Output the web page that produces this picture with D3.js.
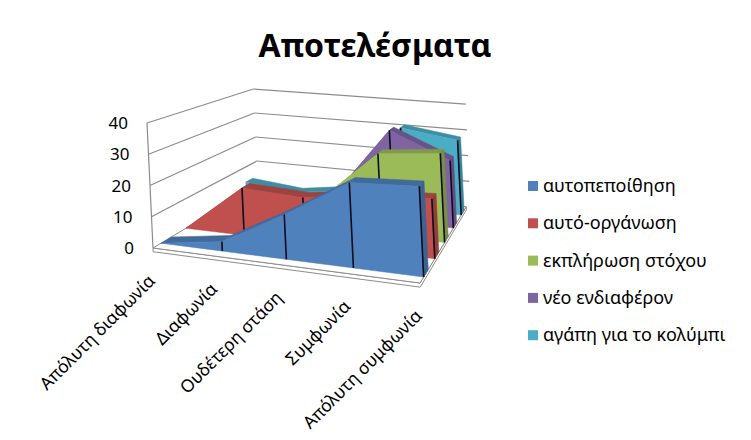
<!DOCTYPE html>
<html>
<head>
<meta charset="utf-8">
<title>Αποτελέσματα</title>
<style>
  body { margin: 0; background: #fff; }
  text { font-family: "Noto Sans", sans-serif; fill: #000; }
</style>
</head>
<body>
<script src="https://d3js.org/d3.v7.min.js"></script>
<script>
// data
var categories = ["Απόλυτη διαφωνία", "Διαφωνία", "Ουδέτερη στάση", "Συμφωνία", "Απόλυτη συμφωνία"];
var seriesNames = ["αυτοπεποίθηση", "αυτό-οργάνωση", "εκπλήρωση στόχου", "νέο ενδιαφέρον", "αγάπη για το κολύμπι"];
var confidence   = [0, 3, 14, 26, 27];
var selfOrg      = [0, 16, 15, 18, 19];
var goalReached  = [0, 0, 10, 28, 30];
var newInterest  = [0, 0, 8, 33, 24];
var loveSwimming = [4, 2, 5, 31, 28];
var yTicks = [0, 10, 20, 30, 40];
var colors = ["#4F81BD", "#C0504D", "#9BBB59", "#8064A2", "#4BACC6"];

var seriesValues = [confidence, selfOrg, goalReached, newInterest, loveSwimming];

var W = 751, H = 440;

var svg = d3.select("body").append("svg")
    .attr("width", W)
    .attr("height", H);

// 3d scales: category -> x (0..1), value -> height (0..1), series -> depth band (0..1)
var xScale = d3.scalePoint().domain(categories).range([0, 1]);
var yScale = d3.scaleLinear().domain([0, 40]).range([0, 1]);
var zScale = d3.scaleBand().domain(seriesNames).range([0, 1])
    .paddingInner(0.6).paddingOuter(0.3);

// perspective projection fitted to the walls of the original
function proj(x, h, z) {
    var w = 1 - 0.0884 * x + 0.302 * z;
    var u = 153 + 229.9 * x - 6 * h + 182.9 * z;
    var v = 248 + 10 * x - 125 * h - 7.1 * z;
    return [u / w, v / w];
}

var line = d3.line();
function poly(pts) { return line(pts.map(function(p){ return proj(p[0], p[1], p[2]); })) + "Z"; }
function seg(a, b) { return line([proj(a[0], a[1], a[2]), proj(b[0], b[1], b[2])]); }

var gridColor = "#8c8c8c";

// walls
var walls = svg.append("g");
walls.append("path")
    .attr("d", poly([[0,0,0],[0,1,0],[0,1,1],[0,0,1]]))
    .attr("fill", "#fff").attr("stroke", "none");
walls.append("path")
    .attr("d", poly([[0,0,1],[0,1,1],[1,1,1],[1,0,1]]))
    .attr("fill", "#fff").attr("stroke", "none");

yTicks.forEach(function(t) {
    if (t === 0) return;
    var h = yScale(t);
    walls.append("path").attr("d", seg([0,h,0],[0,h,1]))
        .attr("stroke", gridColor).attr("fill", "none").attr("stroke-width", 1.2);
    walls.append("path").attr("d", seg([0,h,1],[1.02,h,1]))
        .attr("stroke", gridColor).attr("fill", "none").attr("stroke-width", 1.2);
});
// value axis edge
walls.append("path").attr("d", seg([0,0,0],[0,1,0]))
    .attr("stroke", gridColor).attr("fill", "none").attr("stroke-width", 1.2);

// floor, with a small thickness
var floorG = svg.append("g");
floorG.append("path")
    .attr("d", poly([[0,-0.03,0],[1,-0.03,0],[1,-0.03,1],[1,0,1],[1,0,0],[0,0,0]]))
    .attr("fill", "#fff").attr("stroke", gridColor).attr("stroke-width", 1);
floorG.append("path")
    .attr("d", poly([[0,0,0],[1,0,0],[1,0,1],[0,0,1]]))
    .attr("fill", "#fff").attr("stroke", gridColor).attr("stroke-width", 1);

// series slabs, from back to front
var slabs = svg.append("g");
seriesNames.slice().reverse().forEach(function(name) {
    var s = seriesNames.indexOf(name);
    var vals = seriesValues[s];
    var col = d3.color(colors[s]);
    var topCol = col.darker(0.55).toString();
    var sideCol = col.darker(0.75).toString();
    var zf = zScale(name);
    var zb = zf + zScale.bandwidth();
    var g = slabs.append("g").attr("class", "series");
    var pts = categories.map(function(c, i) { return [xScale(c), yScale(vals[i])]; });

    // top faces
    for (var i = 0; i < pts.length - 1; i++) {
        var a = pts[i], b = pts[i + 1];
        g.append("path")
            .attr("d", poly([[a[0],a[1],zf],[b[0],b[1],zf],[b[0],b[1],zb],[a[0],a[1],zb]]))
            .attr("fill", topCol).attr("stroke", topCol).attr("stroke-width", 0.5);
    }
    // right end face
    var last = pts[pts.length - 1];
    g.append("path")
        .attr("d", poly([[last[0],0,zf],[last[0],last[1],zf],[last[0],last[1],zb],[last[0],0,zb]]))
        .attr("fill", sideCol).attr("stroke", sideCol).attr("stroke-width", 0.5);

    // front face
    var front = [[pts[0][0],0,zf]];
    pts.forEach(function(p) { front.push([p[0], p[1], zf]); });
    front.push([last[0],0,zf]);
    g.append("path")
        .attr("d", poly(front))
        .attr("fill", col.toString()).attr("stroke", col.toString()).attr("stroke-width", 0.5);

    // dark lines at each category on the front face
    pts.forEach(function(p, i) {
        if (i === 0 || p[1] === 0) return;
        g.append("path")
            .attr("d", seg([p[0],0,zf],[p[0],p[1],zf]))
            .attr("stroke", "#0b0b1e").attr("stroke-width", 1.6).attr("fill", "none");
    });
});

// value axis labels
svg.append("g").selectAll("text")
    .data(yTicks)
    .enter().append("text")
    .attr("x", function(d){ return proj(0, yScale(d), 0)[0] - 19; })
    .attr("y", function(d){ return proj(0, yScale(d), 0)[1] + 6; })
    .attr("text-anchor", "end")
    .attr("font-size", "17px")
    .text(function(d){ return d; });

// category labels, rotated
svg.append("g").selectAll("text")
    .data(categories)
    .enter().append("text")
    .attr("transform", function(d){
        var p = proj(xScale(d), 0, 0);
        return "translate(" + (p[0] + 3) + "," + (p[1] + 34) + ") rotate(-45)";
    })
    .attr("text-anchor", "end")
    .attr("font-size", "17.5px")
    .text(function(d){ return d; });

// title
svg.append("text")
    .attr("x", 375).attr("y", 57)
    .attr("text-anchor", "middle")
    .attr("font-size", "32px")
    .attr("font-weight", "bold")
    .text("Αποτελέσματα");

// legend
var legend = svg.append("g").selectAll("g")
    .data(seriesNames)
    .enter().append("g")
    .attr("transform", function(d, i){ return "translate(528," + (186 + i * 37.3) + ")"; });
legend.append("rect")
    .attr("x", 0).attr("y", -5).attr("width", 10).attr("height", 10)
    .attr("fill", function(d, i){ return colors[i]; });
legend.append("text")
    .attr("x", 15).attr("y", 6)
    .attr("font-size", "18px")
    .text(function(d){ return d; });
</script>
</body>
</html>
